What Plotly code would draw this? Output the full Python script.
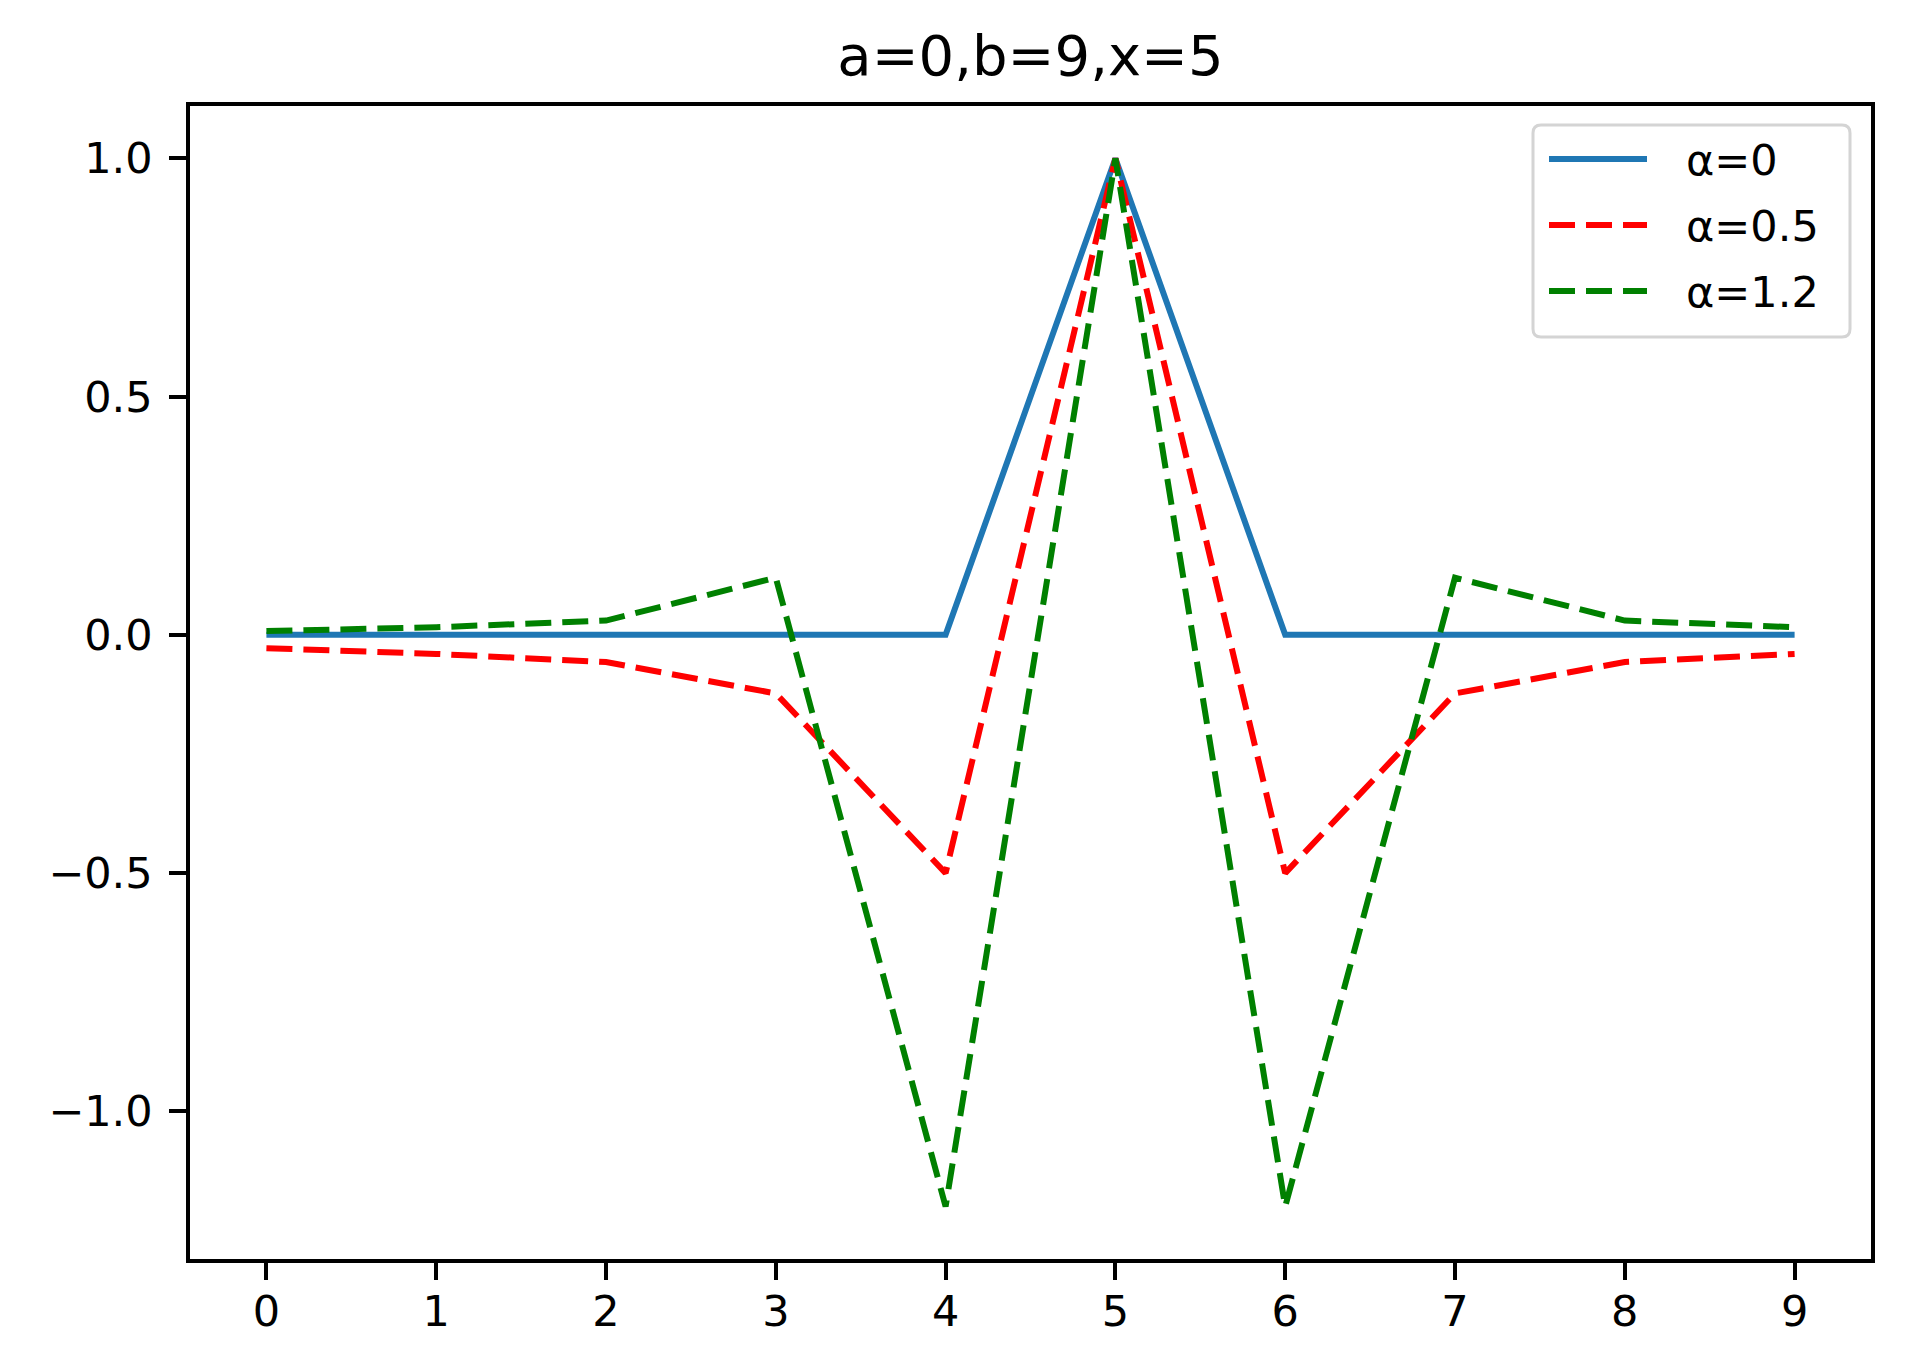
import plotly.graph_objects as go

x_vals = [0, 1, 2, 3, 4, 5, 6, 7, 8, 9]
alpha0 = [0, 0, 0, 0, 0, 1.0, 0, 0, 0, 0]
alpha05 = [-0.028, -0.04, -0.057, -0.123, -0.5, 1.0, -0.5, -0.123, -0.057, -0.04]
alpha12 = [0.008, 0.016, 0.03, 0.12, -1.2, 1.0, -1.2, 0.12, 0.03, 0.016]
names = ["α=0", "α=0.5", "α=1.2"]
colors = ["#1f77b4", "red", "green"]
dashes = ["solid", "26px,11px", "26px,11px"]
y_ticks = [-1.0, -0.5, 0.0, 0.5, 1.0]
title = "a=0,b=9,x=5"

FONT = "DejaVu Sans"
LW = 6

# page offset (browser body margin 8px) compensation
W, H = 1922, 1363
ML, MR, MT, MB = 182, 59, 98, 112
PX0, PX1 = 190, 1871    # plot area in window pixels
PY0, PY1 = 106, 1259

def px(X):
    return (X - PX0) / (PX1 - PX0)

def py(Y):
    return (PY1 - Y) / (PY1 - PY0)

fig = go.Figure()
for ys, nm, c, d in zip([alpha0, alpha05, alpha12], names, colors, dashes):
    fig.add_trace(go.Scatter(x=x_vals, y=ys, mode="lines", name=nm,
                             line=dict(color=c, width=LW, dash=d), showlegend=False))

axis_common = dict(
    showgrid=False, zeroline=False, showline=True, linecolor="black", linewidth=3.5,
    mirror=True, ticks="outside", ticklen=17, tickwidth=3.5, tickcolor="black",
    tickfont=dict(family=FONT, size=43, color="black"),
)

# legend box (rounded rectangle) in paper coords
bx0, bx1, by0, by1 = px(1533), px(1850), py(337), py(125)
rx, ry = 8 / (PX1 - PX0), 8 / (PY1 - PY0)
path = (f"M{bx0+rx},{by1} L{bx1-rx},{by1} Q{bx1},{by1} {bx1},{by1-ry} "
        f"L{bx1},{by0+ry} Q{bx1},{by0} {bx1-rx},{by0} L{bx0+rx},{by0} "
        f"Q{bx0},{by0} {bx0},{by0+ry} L{bx0},{by1-ry} Q{bx0},{by1} {bx0+rx},{by1} Z")
shapes = [dict(type="path", xref="paper", yref="paper", path=path,
               line=dict(color="#d4d4d4", width=3), fillcolor="rgba(255,255,255,0.8)",
               layer="above")]
annotations = []
entry_y = [159, 225, 291]
for nm, c, d, ey in zip(names, colors, dashes, entry_y):
    shapes.append(dict(type="line", xref="paper", yref="paper",
                       x0=px(1549), x1=px(1647), y0=py(ey), y1=py(ey),
                       line=dict(color=c, width=LW, dash=d), layer="above"))
    annotations.append(dict(text=nm, xref="paper", yref="paper", x=px(1684), y=py(ey + 1),
                            xanchor="left", yanchor="middle", showarrow=False,
                            font=dict(family=FONT, size=43, color="black")))

fig.update_layout(
    width=W, height=H,
    margin=dict(l=ML, r=MR, t=MT, b=MB),
    paper_bgcolor="white", plot_bgcolor="white",
    title=dict(text=title, x=0.5, xref="paper", xanchor="center",
               y=1 - 47 / H, yref="container", yanchor="middle",
               font=dict(family=FONT, size=56, color="black")),
    xaxis=dict(range=[-0.45, 9.45], tickvals=x_vals, ticktext=[str(v) for v in x_vals],
               ticklabelstandoff=-5, **axis_common),
    yaxis=dict(range=[-1.31, 1.11], tickvals=y_ticks, tickformat=".1f",
               ticklabelstandoff=8, **axis_common),
    shapes=shapes,
    annotations=annotations,
    showlegend=False,
)

fig.write_html("out.html")
